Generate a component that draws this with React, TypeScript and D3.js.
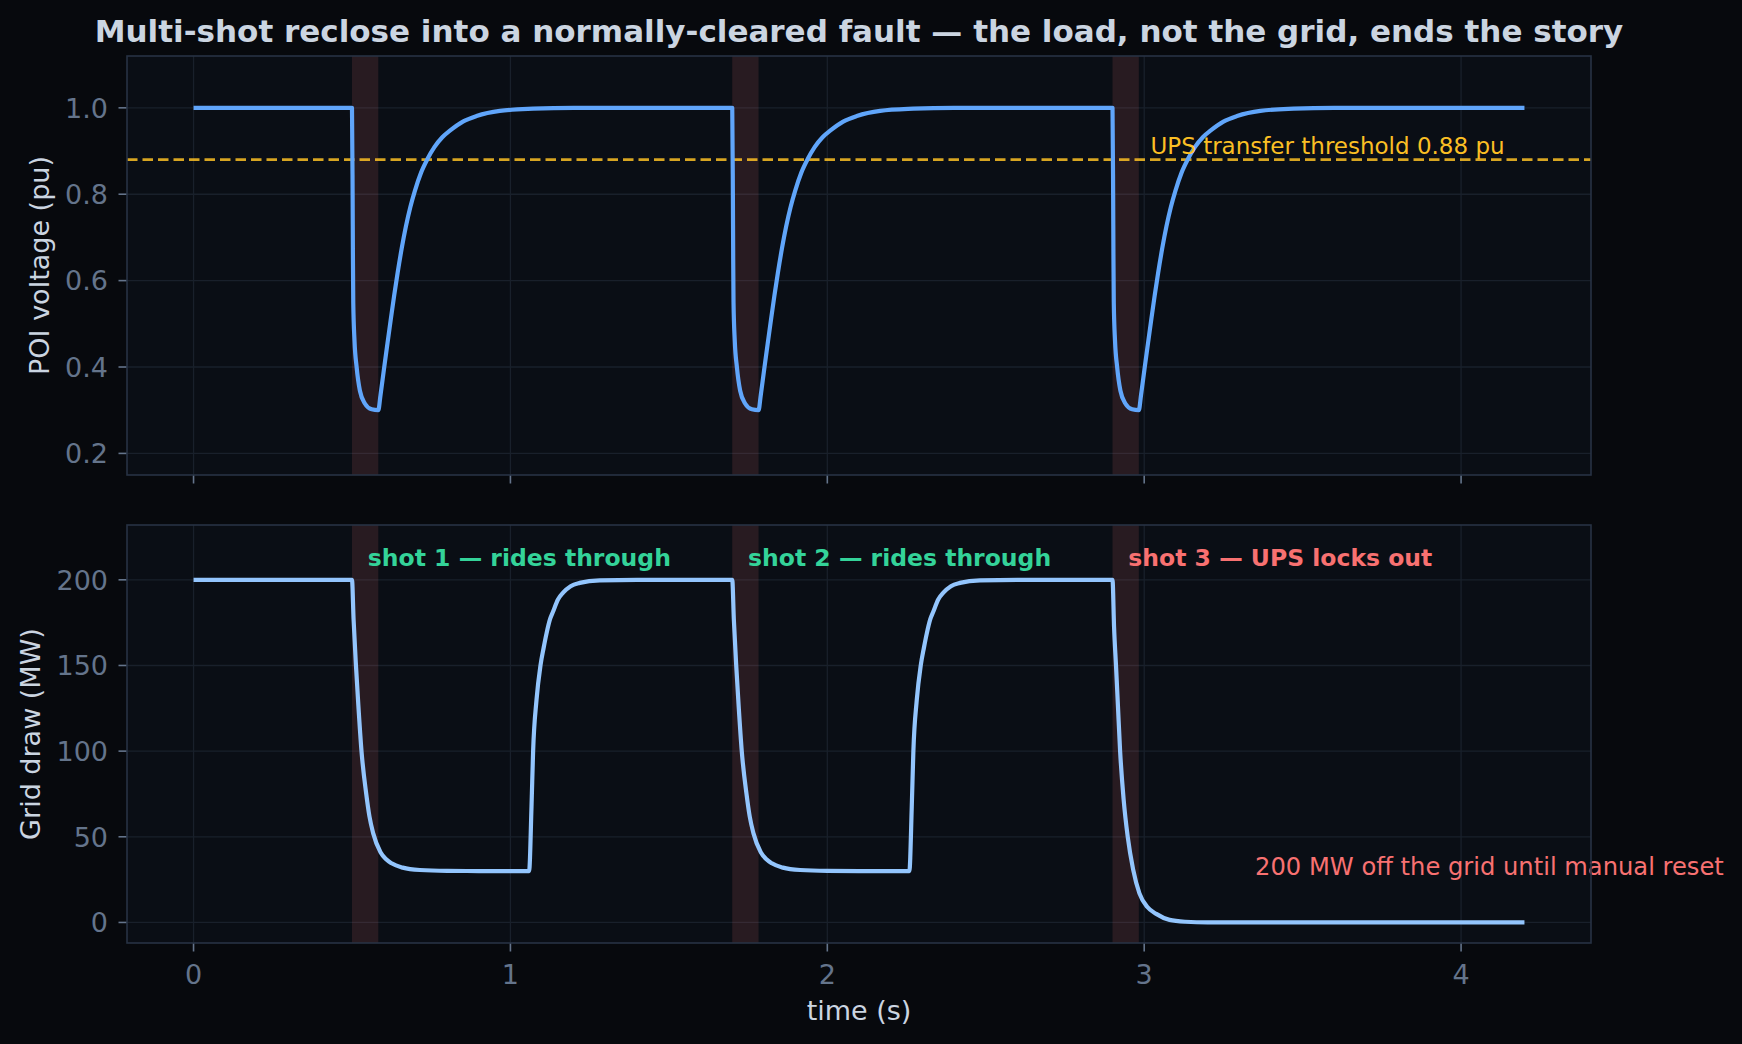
import React from 'react';
import * as d3 from 'd3';

// ---------- data ----------
const voltTime = [
  0, 0.5, 0.502, 0.503, 0.504, 0.508, 0.5146, 0.525, 0.541, 0.562, 0.583,
  0.59, 0.6018, 0.612, 0.6229, 0.633, 0.644, 0.657, 0.67, 0.684, 0.6985, 0.718, 0.7385, 0.76, 0.785, 0.809, 0.85, 0.893, 0.9666, 1.0716, 1.2, 1.7,
  1.702, 1.703, 1.704, 1.708, 1.7146, 1.725, 1.741, 1.762, 1.783,
  1.79, 1.8018, 1.812, 1.8229, 1.833, 1.844, 1.857, 1.87, 1.884, 1.8985, 1.918, 1.9385, 1.96, 1.985, 2.009, 2.05, 2.093, 2.1666, 2.2716, 2.4, 2.9,
  2.902, 2.903, 2.904, 2.908, 2.9146, 2.925, 2.941, 2.962, 2.983,
  2.99, 3.0018, 3.012, 3.0229, 3.033, 3.044, 3.057, 3.07, 3.084, 3.0985, 3.118, 3.1385, 3.16, 3.185, 3.209, 3.25, 3.293, 3.3666, 3.4716, 3.6, 4.2,
];
const voltValue = [
  1.0, 1.0, 0.8, 0.65, 0.55, 0.46, 0.4, 0.345, 0.315, 0.302, 0.3,
  0.335, 0.4, 0.455, 0.513, 0.565, 0.618, 0.675, 0.725, 0.77, 0.808, 0.85, 0.882, 0.909, 0.932, 0.947, 0.968, 0.981, 0.993, 0.998, 1.0, 1.0,
  0.8, 0.65, 0.55, 0.46, 0.4, 0.345, 0.315, 0.302, 0.3,
  0.335, 0.4, 0.455, 0.513, 0.565, 0.618, 0.675, 0.725, 0.77, 0.808, 0.85, 0.882, 0.909, 0.932, 0.947, 0.968, 0.981, 0.993, 0.998, 1.0, 1.0,
  0.8, 0.65, 0.55, 0.46, 0.4, 0.345, 0.315, 0.302, 0.3,
  0.335, 0.4, 0.455, 0.513, 0.565, 0.618, 0.675, 0.725, 0.77, 0.808, 0.85, 0.882, 0.909, 0.932, 0.947, 0.968, 0.981, 0.993, 0.998, 1.0, 1.0,
];
const drawTime = [
  0, 0.5, 0.505, 0.5125, 0.52, 0.53, 0.545, 0.555, 0.567, 0.59, 0.607, 0.625, 0.66, 0.714, 0.8, 0.9, 1.059,
  1.0665, 1.0716, 1.0822, 1.0948, 1.105, 1.1138, 1.125, 1.1347, 1.15, 1.1662, 1.19, 1.2188, 1.2819, 1.4, 1.7,
  1.705, 1.7125, 1.72, 1.73, 1.745, 1.755, 1.767, 1.79, 1.807, 1.825, 1.86, 1.914, 2.0, 2.1, 2.259,
  2.2665, 2.2716, 2.2822, 2.2948, 2.305, 2.3138, 2.325, 2.3347, 2.35, 2.3662, 2.39, 2.4188, 2.4819, 2.6, 2.9,
  2.905, 2.911, 2.917, 2.924, 2.935, 2.948, 2.965, 2.985, 3.01, 3.038, 3.08, 3.13, 3.2, 4.2,
];
const drawValue = [
  200, 200, 177, 150, 127, 100, 75, 62, 52, 41, 37, 34.5, 32, 30.6, 30.1, 30, 30,
  67.5, 100, 129.7, 150, 160.5, 168.6, 177, 181.5, 188.5, 192.5, 196.3, 198.2, 199.7, 200, 200,
  177, 150, 127, 100, 75, 62, 52, 41, 37, 34.5, 32, 30.6, 30.1, 30, 30,
  67.5, 100, 129.7, 150, 160.5, 168.6, 177, 181.5, 188.5, 192.5, 196.3, 198.2, 199.7, 200, 200,
  172, 150, 127, 100, 72, 50, 31, 17, 9, 5, 1.5, 0.4, 0, 0,
];
const faultStart = [0.5, 1.7, 2.9];
const faultEnd = [0.583, 1.783, 2.983];
const xTicks = [0, 1, 2, 3, 4];
const voltTicks = [0.2, 0.4, 0.6, 0.8, 1.0];
const drawTicks = [0, 50, 100, 150, 200];
const threshold = 0.88;
const shotLabels = ['shot 1 — rides through', 'shot 2 — rides through', 'shot 3 — UPS locks out'];
const shotLabelX = [0.55, 1.75, 2.95];
const shotLabelColor = ['#34d399', '#34d399', '#f87171'];

// ---------- styling ----------
const FONT = '"DejaVu Sans", sans-serif';
const FIG_BG = '#07090d';
const AX_BG = '#0a0e15';
const FRAME = '#273244';
const GRID = '#19202b';
const TICK = '#64748b';
const LABEL = '#cbd5e1';

export default function App() {
  const W = 1742, H = 1044;
  const L = 127, R = 1591;
  const top = { y0: 56, y1: 475 };
  const bot = { y0: 525, y1: 943 };

  const x = d3.scaleLinear().domain([-0.21, 4.41]).range([L, R]);
  const yV = d3.scaleLinear().domain([0.15, 1.12]).range([top.y1, top.y0]);
  const yD = d3.scaleLinear().domain([-12, 232]).range([bot.y1, bot.y0]);

  const voltPts = voltTime.map((t, i) => [t, voltValue[i]] as [number, number]);
  const drawPts = drawTime.map((t, i) => [t, drawValue[i]] as [number, number]);

  const lineV = d3.line<[number, number]>().x(d => x(d[0])).y(d => yV(d[1])).curve(d3.curveMonotoneX);
  const lineD = d3.line<[number, number]>().x(d => x(d[0])).y(d => yD(d[1])).curve(d3.curveMonotoneX);

  const panel = (p: { y0: number; y1: number }, y: d3.ScaleLinear<number, number>, ticks: number[], fmt: (v: number) => string, key: string, showXLabels: boolean) => (
    <g key={key}>
      <rect x={L} y={p.y0} width={R - L} height={p.y1 - p.y0} fill={AX_BG} />
      {xTicks.map(t => (
        <line key={'gx' + t} x1={x(t)} x2={x(t)} y1={p.y0} y2={p.y1} stroke={GRID} strokeWidth={1.3} />
      ))}
      {ticks.map(v => (
        <line key={'gy' + v} x1={L} x2={R} y1={y(v)} y2={y(v)} stroke={GRID} strokeWidth={1.3} />
      ))}
      {faultStart.map((s, i) => (
        <rect key={'f' + i} x={x(s)} y={p.y0} width={x(faultEnd[i]) - x(s)} height={p.y1 - p.y0} fill="#f87171" fillOpacity={0.13} />
      ))}
      {ticks.map(v => (
        <g key={'ty' + v}>
          <line x1={L - 8.5} x2={L} y1={y(v)} y2={y(v)} stroke={TICK} strokeWidth={1.6} />
          <text x={108} y={y(v)} dy="0.36em" textAnchor="end" fill={TICK} fontSize={27} fontFamily={FONT}>{fmt(v)}</text>
        </g>
      ))}
      {xTicks.map(t => (
        <g key={'tx' + t}>
          <line x1={x(t)} x2={x(t)} y1={p.y1} y2={p.y1 + 8.5} stroke={TICK} strokeWidth={1.6} />
          {showXLabels && (
            <text x={x(t)} y={974} dy="0.36em" textAnchor="middle" fill={TICK} fontSize={27} fontFamily={FONT}>{String(t)}</text>
          )}
        </g>
      ))}
    </g>
  );

  return (
    <svg width={W} height={H} viewBox={`0 0 ${W} ${H}`} style={{ position: 'absolute', left: 0, top: 0, display: 'block' }}>
      <defs>
        <clipPath id="clipTop"><rect x={L} y={top.y0} width={R - L} height={top.y1 - top.y0} /></clipPath>
        <clipPath id="clipBot"><rect x={L} y={bot.y0} width={R - L} height={bot.y1 - bot.y0} /></clipPath>
      </defs>
      <rect x={0} y={0} width={W} height={H} fill={FIG_BG} />

      {panel(top, yV, voltTicks, v => v.toFixed(1), 'top', false)}
      {panel(bot, yD, drawTicks, v => String(v), 'bot', true)}

      {/* top panel content */}
      <g clipPath="url(#clipTop)">
        <line x1={L} x2={R} y1={yV(threshold)} y2={yV(threshold)} stroke="#fbbf24" strokeOpacity={0.85} strokeWidth={2.6} strokeDasharray="10.5 5" />
        <path d={lineV(voltPts) || ''} fill="none" stroke="#60a5fa" strokeWidth={4.2} strokeLinejoin="round" />
      </g>
      <text x={x(3.02)} y={yV(0.913)} dy="0.36em" fill="#fbbf24" fontSize={23} fontFamily={FONT}>UPS transfer threshold 0.88 pu</text>

      {/* bottom panel content */}
      <g clipPath="url(#clipBot)">
        <path d={lineD(drawPts) || ''} fill="none" stroke="#93c5fd" strokeWidth={4.2} strokeLinejoin="round" />
      </g>
      {shotLabels.map((s, i) => (
        <text key={s} x={x(shotLabelX[i])} y={yD(213)} dy="0.36em" fill={shotLabelColor[i]} fontSize={23.5} fontWeight="bold" fontFamily={FONT}>{s}</text>
      ))}
      <text x={x(3.35)} y={yD(33)} dy="0.36em" fill="#f87171" fontSize={24.2} fontFamily={FONT}>200 MW off the grid until manual reset</text>

      {/* frames */}
      <rect x={L} y={top.y0} width={R - L} height={top.y1 - top.y0} fill="none" stroke={FRAME} strokeWidth={1.6} />
      <rect x={L} y={bot.y0} width={R - L} height={bot.y1 - bot.y0} fill="none" stroke={FRAME} strokeWidth={1.6} />

      {/* labels */}
      <text transform={`translate(39,${(top.y0 + top.y1) / 2}) rotate(-90)`} dy="0.36em" textAnchor="middle" fill={LABEL} fontSize={27} fontFamily={FONT}>POI voltage (pu)</text>
      <text transform={`translate(30,${(bot.y0 + bot.y1) / 2}) rotate(-90)`} dy="0.36em" textAnchor="middle" fill={LABEL} fontSize={27} fontFamily={FONT}>Grid draw (MW)</text>
      <text x={(L + R) / 2} y={1010.5} dy="0.36em" textAnchor="middle" fill={LABEL} fontSize={27} fontFamily={FONT}>time (s)</text>
      <text x={(L + R) / 2} y={31} dy="0.36em" textAnchor="middle" fill={LABEL} fontSize={31} fontWeight="bold" fontFamily={FONT}>Multi-shot reclose into a normally-cleared fault — the load, not the grid, ends the story</text>
    </svg>
  );
}
